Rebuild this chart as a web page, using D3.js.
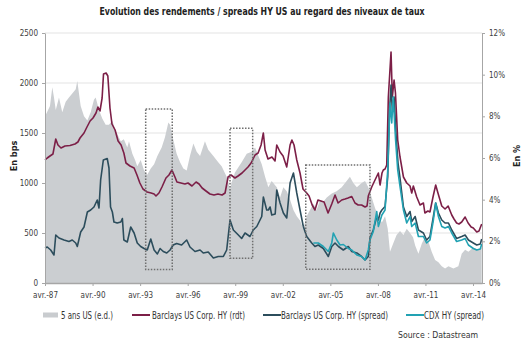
<!DOCTYPE html>
<html>
<head>
<meta charset="utf-8">
<script src="https://cdn.jsdelivr.net/npm/d3@7"></script>
<style>
  body { margin: 0; background: #fff; }
  text { font-family: "Liberation Sans Narrow", "Arial Narrow", "DejaVu Sans Condensed", "Liberation Sans", sans-serif; }
</style>
</head>
<body>
<div id="chart"></div>
<script>
// Données : [année décimale, valeur]
// 5 ans US (en %, axe de droite)
var taux5ans = [
  [1987.25, 8.0], [1987.38, 8.2], [1987.57, 8.5], [1987.71, 9.4], [1987.82, 8.9], [1987.93, 8.3],
  [1988.13, 8.9], [1988.34, 8.2], [1988.56, 8.7], [1988.76, 8.9], [1988.97, 9.1], [1989.19, 9.3],
  [1989.29, 9.7], [1989.40, 9.1], [1989.50, 8.5], [1989.71, 8.0], [1989.92, 7.8], [1990.13, 8.2],
  [1990.34, 8.8], [1990.45, 8.9], [1990.66, 8.3], [1990.86, 7.9], [1991.08, 7.6], [1991.29, 7.6],
  [1991.50, 7.8], [1991.71, 7.3], [1992.03, 6.8], [1992.23, 6.9], [1992.44, 6.5], [1992.55, 6.8],
  [1992.76, 6.2], [1992.93, 5.9], [1993.07, 5.6], [1993.29, 5.9], [1993.50, 5.4], [1993.70, 5.2],
  [1993.92, 5.5], [1994.13, 5.7], [1994.34, 6.1], [1994.61, 6.5], [1994.82, 7.0], [1995.03, 7.7],
  [1995.14, 7.6], [1995.34, 6.9], [1995.56, 6.2], [1995.77, 5.8], [1995.98, 5.5], [1996.19, 5.4],
  [1996.40, 6.1], [1996.61, 6.7], [1996.82, 6.3], [1997.03, 6.1], [1997.34, 6.8], [1997.55, 6.4],
  [1997.87, 6.1], [1998.18, 5.8], [1998.40, 5.6], [1998.71, 5.1], [1998.92, 4.5], [1999.05, 4.9],
  [1999.24, 5.3], [1999.66, 5.8], [1999.98, 6.2], [2000.29, 6.3], [2000.50, 6.5], [2000.71, 6.1],
  [2000.92, 5.7], [2001.13, 5.1], [2001.34, 4.6], [2001.55, 4.9], [2001.87, 4.6], [2002.08, 4.1],
  [2002.29, 4.6], [2002.50, 4.4], [2002.71, 4.0], [2002.92, 3.5], [2003.13, 3.2], [2003.34, 3.0],
  [2003.55, 2.6], [2003.76, 3.2], [2003.97, 3.5], [2004.18, 3.8], [2004.39, 3.5], [2004.60, 4.0],
  [2004.81, 3.9], [2005.02, 4.1], [2005.34, 4.3], [2005.65, 4.4], [2005.97, 4.6], [2006.28, 4.9],
  [2006.49, 5.1], [2006.70, 4.8], [2006.92, 4.6], [2007.23, 4.8], [2007.44, 4.9], [2007.65, 4.6],
  [2007.86, 4.1], [2008.07, 3.6], [2008.28, 3.2], [2008.50, 2.9], [2008.70, 3.2], [2008.87, 2.6],
  [2009.01, 1.5], [2009.22, 1.9], [2009.43, 2.3], [2009.65, 2.5], [2009.86, 2.3], [2010.07, 2.6],
  [2010.28, 2.4], [2010.47, 2.2], [2010.60, 1.8], [2010.81, 1.4], [2011.02, 1.9], [2011.22, 2.2],
  [2011.43, 2.0], [2011.65, 1.5], [2011.86, 1.1], [2012.07, 1.0], [2012.28, 0.8], [2012.49, 0.7],
  [2012.70, 0.8], [2013.01, 0.7], [2013.33, 0.8], [2013.54, 1.4], [2013.75, 1.6], [2013.96, 1.5],
  [2014.27, 1.7], [2014.59, 1.6], [2014.80, 1.7]
];

// Barclays US Corp. HY (rdt), en bps
var hyRdt = [
  [1987.25, 1230], [1987.40, 1250], [1987.57, 1270], [1987.75, 1290], [1987.93, 1440], [1988.07, 1380],
  [1988.26, 1350], [1988.51, 1370], [1988.83, 1375], [1989.14, 1390], [1989.33, 1410], [1989.46, 1450],
  [1989.71, 1500], [1989.90, 1560], [1990.09, 1620], [1990.28, 1650], [1990.47, 1700], [1990.59, 1760],
  [1990.72, 1720], [1990.85, 1850], [1990.94, 2090], [1991.10, 2100], [1991.22, 2070], [1991.35, 1750],
  [1991.48, 1590], [1991.67, 1530], [1991.86, 1420], [1992.05, 1380], [1992.23, 1300], [1992.36, 1200],
  [1992.61, 1170], [1992.87, 1150], [1993.05, 1080], [1993.24, 1000], [1993.43, 940], [1993.69, 910],
  [1993.94, 900], [1994.13, 890], [1994.25, 870], [1994.44, 900], [1994.63, 960], [1994.88, 1050],
  [1995.07, 1080], [1995.26, 1130], [1995.45, 1060], [1995.58, 1010], [1995.83, 1000], [1996.08, 990],
  [1996.27, 1000], [1996.52, 970], [1996.78, 1010], [1996.97, 990], [1997.16, 950], [1997.41, 920],
  [1997.66, 890], [1997.91, 880], [1998.16, 890], [1998.42, 880], [1998.61, 900], [1998.80, 1060],
  [1998.99, 1080], [1999.24, 1050], [1999.43, 1070], [1999.68, 1100], [1999.87, 1130], [2000.06, 1160],
  [2000.25, 1200], [2000.50, 1280], [2000.69, 1300], [2000.88, 1380], [2001.02, 1500], [2001.13, 1330],
  [2001.32, 1240], [2001.57, 1260], [2001.76, 1220], [2001.87, 1380], [2002.08, 1310], [2002.27, 1270],
  [2002.50, 1160], [2002.71, 1380], [2002.83, 1430], [2002.96, 1380], [2003.13, 1230], [2003.34, 1100],
  [2003.53, 940], [2003.76, 900], [2003.91, 870], [2004.10, 780], [2004.28, 730], [2004.47, 830],
  [2004.66, 820], [2004.85, 810], [2005.10, 700], [2005.34, 790], [2005.55, 880], [2005.74, 800],
  [2005.97, 830], [2006.18, 840], [2006.37, 850], [2006.60, 865], [2006.81, 800], [2007.00, 780],
  [2007.23, 780], [2007.44, 760], [2007.57, 770], [2007.65, 870], [2007.86, 960], [2008.07, 1030],
  [2008.28, 1100], [2008.39, 980], [2008.51, 1100], [2008.59, 1130], [2008.70, 1140], [2008.81, 1180],
  [2008.91, 1860], [2009.08, 2310], [2009.16, 1860], [2009.27, 2030], [2009.36, 1900], [2009.50, 1430],
  [2009.65, 1260], [2009.86, 1060], [2010.07, 1000], [2010.28, 970], [2010.39, 900], [2010.49, 970],
  [2010.70, 860], [2010.91, 780], [2011.12, 800], [2011.22, 700], [2011.41, 720], [2011.54, 710],
  [2011.73, 860], [2011.90, 980], [2012.04, 900], [2012.28, 770], [2012.49, 740], [2012.68, 770],
  [2012.91, 680], [2013.05, 640], [2013.22, 600], [2013.37, 590], [2013.54, 610], [2013.75, 660],
  [2013.94, 600], [2014.13, 560], [2014.27, 550], [2014.49, 510], [2014.63, 520], [2014.80, 590]
];

// Barclays US Corp. HY (spread), en bps
var hySpread = [
  [1987.25, 350], [1987.40, 360], [1987.61, 330], [1987.82, 280], [1987.93, 480], [1988.13, 450],
  [1988.45, 430], [1988.76, 415], [1988.97, 430], [1989.19, 400], [1989.29, 365], [1989.50, 510],
  [1989.71, 560], [1989.92, 710], [1990.13, 730], [1990.34, 760], [1990.55, 830], [1990.66, 750],
  [1990.76, 1030], [1990.93, 1230], [1991.18, 1245], [1991.29, 1150], [1991.39, 760], [1991.50, 710],
  [1991.60, 610], [1991.81, 600], [1992.03, 610], [1992.13, 645], [1992.23, 430], [1992.44, 410],
  [1992.66, 560], [1992.87, 500], [1993.07, 400], [1993.29, 365], [1993.50, 345], [1993.70, 330],
  [1993.92, 440], [1994.13, 330], [1994.34, 290], [1994.51, 345], [1994.71, 315], [1994.93, 300],
  [1995.14, 330], [1995.34, 380], [1995.56, 395], [1995.87, 380], [1996.19, 430], [1996.40, 360],
  [1996.71, 315], [1997.03, 330], [1997.24, 300], [1997.55, 310], [1997.87, 250], [1998.18, 265],
  [1998.50, 265], [1998.71, 330], [1998.92, 630], [1999.13, 530], [1999.45, 480], [1999.66, 445],
  [1999.87, 500], [2000.18, 465], [2000.39, 530], [2000.61, 565], [2000.92, 665], [2001.02, 860],
  [2001.24, 730], [2001.34, 730], [2001.45, 760], [2001.56, 680], [2001.77, 690], [2001.87, 930],
  [2002.08, 800], [2002.29, 700], [2002.50, 650], [2002.71, 1000], [2002.92, 1100], [2003.13, 900],
  [2003.34, 730], [2003.55, 565], [2003.76, 465], [2004.08, 400], [2004.28, 365], [2004.49, 380],
  [2004.81, 345], [2005.12, 265], [2005.34, 365], [2005.55, 400], [2005.76, 365], [2006.07, 330],
  [2006.39, 365], [2006.60, 315], [2006.92, 300], [2007.23, 265], [2007.44, 230], [2007.65, 265],
  [2007.75, 450], [2007.96, 530], [2008.18, 665], [2008.28, 630], [2008.39, 700], [2008.50, 730],
  [2008.70, 765], [2008.87, 1060], [2008.98, 1700], [2009.08, 1980], [2009.16, 1720], [2009.27, 1860],
  [2009.39, 1500], [2009.52, 1200], [2009.65, 1050], [2009.86, 760], [2010.07, 665], [2010.28, 715],
  [2010.39, 615], [2010.60, 665], [2010.81, 530], [2011.12, 500], [2011.33, 430], [2011.54, 465],
  [2011.75, 665], [2011.90, 800], [2012.07, 700], [2012.28, 630], [2012.49, 600], [2012.70, 600],
  [2012.91, 530], [2013.22, 445], [2013.54, 465], [2013.75, 480], [2013.96, 430], [2014.27, 400],
  [2014.49, 380], [2014.71, 390], [2014.80, 440]
];

// CDX HY (spread), en bps
var cdxSpread = [
  [2004.18, 400], [2004.49, 400], [2004.81, 365], [2005.12, 315], [2005.34, 400], [2005.44, 500],
  [2005.66, 430], [2005.86, 380], [2006.07, 385], [2006.39, 345], [2006.60, 330], [2006.92, 280],
  [2007.23, 265], [2007.44, 230], [2007.65, 330], [2007.75, 430], [2007.96, 515], [2008.18, 715],
  [2008.28, 565], [2008.50, 680], [2008.70, 730], [2008.87, 1130], [2009.01, 1800], [2009.12, 1600],
  [2009.22, 1860], [2009.37, 1430], [2009.50, 1130], [2009.65, 965], [2009.86, 730], [2010.07, 600],
  [2010.28, 665], [2010.39, 565], [2010.60, 600], [2010.81, 465], [2011.12, 465], [2011.33, 400],
  [2011.54, 430], [2011.75, 630], [2011.90, 800], [2012.07, 665], [2012.28, 565], [2012.49, 550],
  [2012.70, 565], [2012.91, 500], [2013.22, 415], [2013.54, 430], [2013.75, 445], [2013.96, 380],
  [2014.27, 345], [2014.49, 330], [2014.71, 340], [2014.80, 390]
];

// Cadres en pointillés : [début, fin, bas, haut]
var cadres = [
  [1993.60, 1995.28, 135, 1740],
  [1998.92, 2000.35, 247, 1547],
  [2003.70, 2007.75, 137, 1180]
];

var xTickYears = [1987, 1990, 1993, 1996, 1999, 2002, 2005, 2008, 2011, 2014];
var xTickLabels = ["avr.-87", "avr.-90", "avr.-93", "avr.-96", "avr.-99", "avr.-02", "avr.-05", "avr.-08", "avr.-11", "avr.-14"];
var leftTicks = [0, 500, 1000, 1500, 2000, 2500];
var rightTicks = [0, 2, 4, 6, 8, 10, 12];

var legende = [
  { nom: "5 ans US (e.d.)", type: "area", couleur: "#c9cccf", x: 43, tx: 61, lg: 52 },
  { nom: "Barclays US Corp. HY (rdt)", type: "line", couleur: "#7c1f47", x: 132, tx: 152, lg: 93 },
  { nom: "Barclays US Corp. HY (spread)", type: "line", couleur: "#2c4d5c", x: 263, tx: 281, lg: 107 },
  { nom: "CDX HY (spread)", type: "line", couleur: "#22a2b3", x: 406, tx: 424, lg: 60 }
];

// année décimale -> Date
function toDate(y) {
  var yr = Math.floor(y);
  var m = (y - yr) * 12;
  return new Date(yr, Math.floor(m), 1 + Math.round((m % 1) * 28));
}

var W = 525, H = 349;
var mLeft = 45, mRight = 482, mTop = 33, mBottom = 283;

var svg = d3.select('#chart').append('svg')
  .attr('width', W)
  .attr('height', H)
  .style('background-color', '#ffffff');

var x = d3.scaleTime()
  .domain([toDate(1987.25), toDate(2014.82)])
  .range([mLeft, mRight]);

var yL = d3.scaleLinear().domain([0, 2500]).range([mBottom, mTop]);
var yR = d3.scaleLinear().domain([0, 12]).range([mBottom, mTop]);

// titre
svg.append('text')
  .attr('x', 262)
  .attr('y', 15)
  .attr('text-anchor', 'middle')
  .attr('font-size', 10.5)
  .attr('font-weight', 'bold')
  .attr('fill', '#222')
  .attr('textLength', 325)
  .attr('lengthAdjust', 'spacingAndGlyphs')
  .text("Evolution des rendements / spreads HY US au regard des niveaux de taux");

// quadrillage
svg.append('g').selectAll('line')
  .data(leftTicks.filter(function(d) { return d > 0; }))
  .enter().append('line')
  .attr('x1', mLeft).attr('x2', mRight)
  .attr('y1', function(d) { return yL(d); })
  .attr('y2', function(d) { return yL(d); })
  .attr('stroke', '#e3e3e3')
  .attr('stroke-width', 1);

// aire 5 ans US
var area = d3.area()
  .x(function(d) { return x(toDate(d[0])); })
  .y0(yR(0))
  .y1(function(d) { return yR(d[1]); });

svg.append('path')
  .datum(taux5ans)
  .attr('d', area)
  .attr('fill', '#cbced1');

// lignes
var lineL = d3.line()
  .x(function(d) { return x(toDate(d[0])); })
  .y(function(d) { return yL(d[1]); });

var series = [
  { data: hyRdt, couleur: '#7c1f47' },
  { data: hySpread, couleur: '#2c4d5c' },
  { data: cdxSpread, couleur: '#22a2b3' }
];

series.forEach(function(s) {
  svg.append('path')
    .datum(s.data)
    .attr('d', lineL)
    .attr('fill', 'none')
    .attr('stroke', s.couleur)
    .attr('stroke-width', 1.6)
    .attr('stroke-linejoin', 'round');
});

// cadres pointillés
svg.append('g').selectAll('rect')
  .data(cadres)
  .enter().append('rect')
  .attr('x', function(d) { return x(toDate(d[0])); })
  .attr('y', function(d) { return yL(d[3]); })
  .attr('width', function(d) { return x(toDate(d[1])) - x(toDate(d[0])); })
  .attr('height', function(d) { return yL(d[2]) - yL(d[3]); })
  .attr('fill', 'none')
  .attr('stroke', '#6f6f6f')
  .attr('stroke-width', 1.5)
  .attr('stroke-dasharray', '1.5,1.5');

// axes
var axisStyle = function(g) {
  g.selectAll('path').attr('stroke', '#a6a6a6');
  g.selectAll('line').attr('stroke', '#a6a6a6');
  g.selectAll('text')
    .attr('fill', '#404040')
    .attr('font-size', 8)
    .style('font-family', '"Liberation Sans Narrow", "Arial Narrow", "DejaVu Sans Condensed", "Liberation Sans", sans-serif');
};

svg.append('g')
  .attr('transform', 'translate(' + mLeft + ',0)')
  .call(d3.axisLeft(yL).tickValues(leftTicks).tickSize(3).tickSizeOuter(0).tickPadding(4)
    .tickFormat(d3.format('d')))
  .call(axisStyle);

svg.append('g')
  .attr('transform', 'translate(' + mRight + ',0)')
  .call(d3.axisRight(yR).tickValues(rightTicks).tickSize(3).tickSizeOuter(0).tickPadding(4)
    .tickFormat(function(d) { return d + '%'; }))
  .call(axisStyle);

svg.append('g')
  .attr('transform', 'translate(0,' + mBottom + ')')
  .call(d3.axisBottom(x)
    .tickValues(xTickYears.map(function(y) { return new Date(y, 3, 1); }))
    .tickFormat(function(d, i) { return xTickLabels[i]; })
    .tickSize(3).tickSizeOuter(0).tickPadding(6))
  .call(axisStyle)
  .call(function(g) { g.select('path').attr('stroke-width', 1.5); });

// titres des axes
svg.append('text')
  .attr('transform', 'translate(17,156) rotate(-90)')
  .attr('text-anchor', 'middle')
  .attr('font-size', 9)
  .attr('font-weight', 'bold')
  .attr('fill', '#222')
  .text('En bps');

svg.append('text')
  .attr('transform', 'translate(520,156) rotate(-90)')
  .attr('text-anchor', 'middle')
  .attr('font-size', 9)
  .attr('font-weight', 'bold')
  .attr('fill', '#222')
  .text('En %');

// légende
var leg = svg.append('g').attr('transform', 'translate(0,315)');

legende.forEach(function(d) {
  if (d.type === 'area') {
    leg.append('rect')
      .attr('x', d.x).attr('y', -2.5)
      .attr('width', 15).attr('height', 5)
      .attr('fill', d.couleur);
  } else {
    leg.append('line')
      .attr('x1', d.x).attr('x2', d.x + 18)
      .attr('y1', 0).attr('y2', 0)
      .attr('stroke', d.couleur)
      .attr('stroke-width', 2);
  }
  leg.append('text')
    .attr('x', d.tx)
    .attr('y', 3.5)
    .attr('font-size', 10)
    .attr('fill', '#333')
    .attr('textLength', d.lg)
    .attr('lengthAdjust', 'spacingAndGlyphs')
    .text(d.nom);
});

// source
svg.append('text')
  .attr('x', 398)
  .attr('y', 338)
  .attr('font-size', 8)
  .attr('fill', '#333')
  .attr('textLength', 80)
  .attr('lengthAdjust', 'spacingAndGlyphs')
  .text('Source : Datastream');
</script>
</body>
</html>
